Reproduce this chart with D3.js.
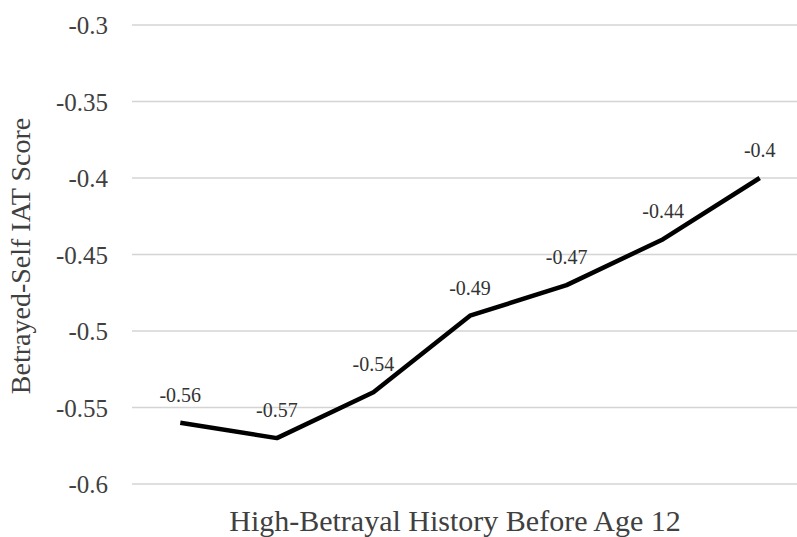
<!DOCTYPE html>
<html>
<head>
<meta charset="utf-8">
<script src="https://cdn.jsdelivr.net/npm/d3@7"></script>
<style>
  html, body { margin: 0; padding: 0; background: #fff; }
  svg { display: block; }
</style>
</head>
<body>
<svg id="chart" width="797" height="537"></svg>
<script>
const categories = ["1", "2", "3", "4", "5", "6", "7"];
const values = [-0.56, -0.57, -0.54, -0.49, -0.47, -0.44, -0.40];
const valueLabels = ["-0.56", "-0.57", "-0.54", "-0.49", "-0.47", "-0.44", "-0.4"];
const yTicks = [-0.6, -0.55, -0.5, -0.45, -0.4, -0.35, -0.3];
const yTickLabels = ["-0.6", "-0.55", "-0.5", "-0.45", "-0.4", "-0.35", "-0.3"];
const xTitle = "High-Betrayal History Before Age 12";
const yTitle = "Betrayed-Self IAT Score";

const svg = d3.select("#chart");
const plotLeft = 132, plotRight = 808, plotTop = 25, plotBottom = 484;
const FONT = "'Liberation Serif', 'Times New Roman', serif";

const x = d3.scaleBand().domain(categories).range([plotLeft, plotRight]);
const y = d3.scaleLinear().domain([-0.6, -0.3]).range([plotBottom, plotTop]);

// gridlines
svg.append("g")
  .selectAll("line")
  .data(yTicks)
  .join("line")
  .attr("x1", plotLeft).attr("x2", plotRight)
  .attr("y1", d => y(d)).attr("y2", d => y(d))
  .attr("stroke", "#d4d4d4").attr("stroke-width", 1.6);

// y axis tick labels
const yAxis = d3.axisLeft(y).tickValues(yTicks)
  .tickFormat((d, i) => yTickLabels[i]).tickSize(0).tickPadding(0);
const gy = svg.append("g").attr("transform", `translate(108,0)`).call(yAxis);
gy.attr("font-family", null).attr("font-size", 25);
gy.select(".domain").remove();
gy.selectAll("text")
  .attr("dy", "0.34em")
  .style("font-family", FONT)
  .attr("fill", "#404040");

// line
const line = d3.line()
  .x((d, i) => x(categories[i]) + x.bandwidth() / 2)
  .y(d => y(d));
svg.append("path")
  .datum(values)
  .attr("d", line)
  .attr("fill", "none")
  .attr("stroke", "#000")
  .attr("stroke-width", 4.5)
  .attr("stroke-linejoin", "round");

// data labels
svg.append("g")
  .selectAll("text")
  .data(values)
  .join("text")
  .attr("x", (d, i) => x(categories[i]) + x.bandwidth() / 2)
  .attr("y", d => y(d) - 21)
  .attr("text-anchor", "middle")
  .style("font-family", FONT)
  .attr("font-size", 20)
  .attr("fill", "#333")
  .text((d, i) => valueLabels[i]);

// axis titles
svg.append("text")
  .attr("x", 455).attr("y", 531)
  .attr("text-anchor", "middle")
  .style("font-family", FONT)
  .attr("font-size", 30).attr("fill", "#404040")
  .text(xTitle);

svg.append("text")
  .attr("transform", "translate(30,256) rotate(-90)")
  .attr("text-anchor", "middle")
  .style("font-family", FONT)
  .attr("font-size", 28).attr("fill", "#404040")
  .text(yTitle);
</script>
</body>
</html>
